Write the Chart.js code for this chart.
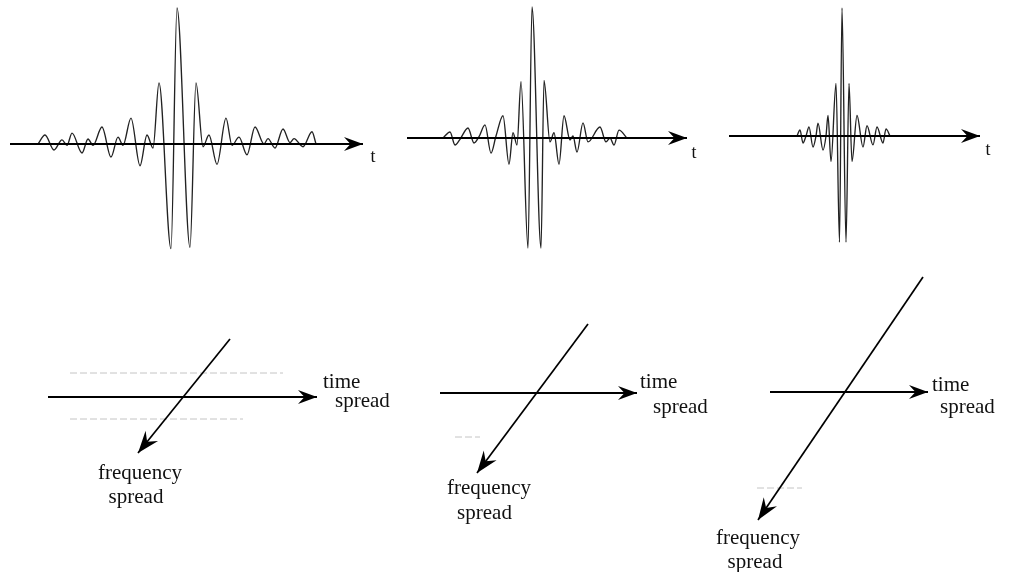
<!DOCTYPE html>
<html><head><meta charset="utf-8">
<script src="https://cdn.jsdelivr.net/npm/chart.js@4"></script>
<style>
html,body{margin:0;padding:0;background:#fff;}
#wrap{position:relative;width:1012px;height:572px;overflow:hidden;background:#fff;}
#wrap canvas{position:absolute;}
</style>
</head><body><div id="wrap"></div>
<script>
// ---------- data ----------
// Wavelet 1 (wide): time (arbitrary units) and amplitude (peak = 1)
const wave1T = [-13.9,-13.2,-12.3,-11.5,-11.0,-10.5,-9.5,-8.9,-8.4,-7.5,-6.6,-5.9,-5.4,-4.6,-3.7,-3.0,-2.4,-1.8,-0.6,0,1.3,1.9,2.6,3.2,4.0,4.9,5.5,6.2,7.0,7.8,8.7,9.1,9.8,10.6,11.3,11.7,12.6,13.5,13.9];
const wave1A = [0,0.066,-0.044,0.03,-0.01,0.08,-0.066,0.037,-0.01,0.125,-0.096,0.05,-0.01,0.19,-0.16,0.066,-0.03,0.45,-0.77,1.0,-0.76,0.45,-0.02,0.066,-0.15,0.19,-0.01,0.05,-0.08,0.125,0,0.04,-0.03,0.11,0.01,0.04,-0.02,0.09,0];
// Wavelet 2 (medium)
const wave2T = [-8.9,-8.2,-7.7,-7.2,-6.4,-5.8,-5.3,-4.7,-4.1,-3.6,-2.9,-2.3,-1.9,-1.5,-1.1,-0.4,0,0.9,1.2,1.8,2.2,2.7,3.2,3.8,4.1,4.5,5.1,5.6,6.8,7.4,7.8,8.2,8.7,9.5];
const wave2A = [0,0.046,-0.053,-0.01,0.076,-0.038,0.01,0.10,-0.115,0.015,0.17,-0.2,0.04,-0.053,0.43,-0.84,1.0,-0.84,0.44,-0.03,0.04,-0.2,0.17,-0.015,0.015,-0.107,0.115,-0.03,0.084,-0.03,0,-0.053,0.06,0];
// Wavelet 3 (narrow)
const wave3T = [-4.5,-4.2,-3.9,-3.6,-3.3,-2.9,-2.6,-2.4,-1.9,-1.6,-1.4,-1.1,-0.6,-0.25,0,0.4,0.7,1.0,1.5,2.1,2.5,3.1,3.5,4.1,4.4,4.8];
const wave3A = [0,0.047,-0.055,0,0.07,-0.086,0,0.10,-0.11,0,0.16,-0.2,0.41,-0.83,1.0,-0.83,0.41,-0.2,0.16,-0.086,0.08,-0.07,0.07,-0.055,0.055,0];
// time axes of the three wavelets (start, arrow tip)
const tAxis1 = [-16.7, 18.6];
const tAxis2 = [-12.5, 15.5];
const tAxis3 = [-11.3, 13.8];
const tLabel = 't';

// Time-frequency diagrams: time-spread axis (x) and frequency-spread axis (x,y pairs)
const timeSpread1 = [-13.4, 13.5];
const freqSpread1X = [4.8, -4.4], freqSpread1Y = [5.8, -5.6];
const timeSpread2 = [-9.7, 10.0];
const freqSpread2X = [5.1, -6.0], freqSpread2Y = [6.9, -8.0];
const timeSpread3 = [-7.3, 8.5];
const freqSpread3X = [8.0, -8.5], freqSpread3Y = [11.5, -12.8];
// faint guide lines (x start, x end, level)
const guide1Upper = [-11.2, 10.1, 2.4];
const guide1Lower = [-11.2, 6.1, -2.2];
const guide2Lower = [-8.2, -5.7, -4.4];
const guide3Lower = [-8.6, -4.1, -9.6];
const timeWords = ['time', 'spread'];
const freqWords = ['frequency', 'spread'];

// ---------- helpers ----------
const zip = (xs, ys) => xs.map((x, i) => ({x, y: ys[i]}));
const hLine = (xs, y) => xs.map(x => ({x, y}));
const guide = g => [{x: g[0], y: g[2]}, {x: g[1], y: g[2]}];

const arrowPlugin = {
  id: 'arrowHeads',
  afterDatasetsDraw(chart) {
    const ctx = chart.ctx;
    chart.data.datasets.forEach((ds, i) => {
      if (!ds.arrowHead) return;
      const pts = chart.getDatasetMeta(i).data;
      const a = pts[pts.length - 2], b = pts[pts.length - 1];
      const ang = Math.atan2(b.y - a.y, b.x - a.x);
      const L = ds.arrowHead.len, W = ds.arrowHead.half;
      ctx.save();
      ctx.translate(b.x, b.y);
      ctx.rotate(ang);
      ctx.beginPath();
      ctx.moveTo(0, 0);
      ctx.lineTo(-L, -W);
      ctx.lineTo(-L * 0.66, 0);
      ctx.lineTo(-L, W);
      ctx.closePath();
      ctx.fillStyle = ds.borderColor;
      ctx.fill();
      ctx.restore();
    });
  }
};
const textPlugin = {
  id: 'panelText',
  afterDraw(chart, args, opts) {
    const ctx = chart.ctx, xs = chart.scales.x, ys = chart.scales.y;
    ctx.save();
    (opts.items || []).forEach(it => {
      ctx.font = it.font;
      ctx.fillStyle = '#111';
      ctx.textAlign = it.align;
      ctx.textBaseline = 'middle';
      ctx.fillText(it.text, xs.getPixelForValue(it.x), ys.getPixelForValue(it.y));
    });
    ctx.restore();
  }
};

function makePanel(p) {
  const c = document.createElement('canvas');
  c.width = p.w; c.height = p.h;
  c.style.left = p.left + 'px'; c.style.top = p.top + 'px';
  c.style.width = p.w + 'px'; c.style.height = p.h + 'px';
  document.getElementById('wrap').appendChild(c);
  new Chart(c, {
    type: 'line',
    data: {datasets: p.datasets},
    options: {
      responsive: false, animation: false, events: [],
      layout: {padding: 0},
      scales: {
        x: {type: 'linear', display: false, min: p.x[0], max: p.x[1]},
        y: {type: 'linear', display: false, min: p.y[0], max: p.y[1]}
      },
      elements: {point: {radius: 0}},
      plugins: {legend: {display: false}, tooltip: {enabled: false}, panelText: {items: p.items}}
    },
    plugins: [arrowPlugin, textPlugin]
  });
}

const waveDs = (t, a) => ({data: zip(t, a), borderColor: '#222', borderWidth: 1.35,
  cubicInterpolationMode: 'monotone', pointRadius: 0, clip: false, order: 2});
const axisDs = (xs) => ({data: hLine(xs, 0), borderColor: '#000', borderWidth: 2,
  tension: 0, pointRadius: 0, clip: false, order: 0, arrowHead: {len: 19, half: 7}});
const diagDs = (xs, ys) => ({data: zip(xs, ys), borderColor: '#000', borderWidth: 1.7,
  tension: 0, pointRadius: 0, clip: false, order: 0, arrowHead: {len: 22, half: 8}});
const guideDs = (g) => ({data: guide(g), borderColor: '#c4c4c4', borderWidth: 1,
  borderDash: [7, 3], tension: 0, pointRadius: 0, clip: false, order: 3});

const tFont = "18px 'Liberation Serif', serif";
const wFont = "21px 'Liberation Serif', serif";

// ---------- top row: wavelets ----------
makePanel({left: 0, top: 0, w: 400, h: 265, x: [-17.7, 22.3], y: [-0.89, 1.059],
  datasets: [axisDs(tAxis1), waveDs(wave1T, wave1A)],
  items: [{text: tLabel, x: 19.6, y: -0.10, align: 'center', font: tFont}]});
makePanel({left: 400, top: 0, w: 310, h: 265, x: [-13.2, 17.8], y: [-0.969, 1.053],
  datasets: [axisDs(tAxis2), waveDs(wave2T, wave2A)],
  items: [{text: tLabel, x: 16.2, y: -0.115, align: 'center', font: tFont}]});
makePanel({left: 710, top: 0, w: 302, h: 265, x: [-13.2, 17.0], y: [-1.008, 1.0625],
  datasets: [axisDs(tAxis3), waveDs(wave3T, wave3A)],
  items: [{text: tLabel, x: 14.6, y: -0.11, align: 'center', font: tFont}]});

// ---------- bottom row: time / frequency spread ----------
makePanel({left: 0, top: 280, w: 420, h: 292, x: [-18.2, 23.8], y: [-17.5, 11.7],
  datasets: [axisDs(timeSpread1), diagDs(freqSpread1X, freqSpread1Y), guideDs(guide1Upper), guideDs(guide1Lower)],
  items: [
    {text: timeWords[0], x: 14.1, y: 1.5, align: 'left', font: wFont},
    {text: timeWords[1], x: 15.3, y: -0.4, align: 'left', font: wFont},
    {text: freqWords[0], x: -4.2, y: -7.6, align: 'center', font: wFont},
    {text: freqWords[1], x: -4.6, y: -10.0, align: 'center', font: wFont}]});
makePanel({left: 400, top: 280, w: 340, h: 292, x: [-13.7, 20.3], y: [-17.9, 11.3],
  datasets: [axisDs(timeSpread2), diagDs(freqSpread2X, freqSpread2Y), guideDs(guide2Lower)],
  items: [
    {text: timeWords[0], x: 10.3, y: 1.1, align: 'left', font: wFont},
    {text: timeWords[1], x: 11.6, y: -1.4, align: 'left', font: wFont},
    {text: freqWords[0], x: -4.8, y: -9.5, align: 'center', font: wFont},
    {text: freqWords[1], x: -5.25, y: -12.0, align: 'center', font: wFont}]});
makePanel({left: 700, top: 260, w: 312, h: 312, x: [-14.3, 16.9], y: [-18.0, 13.2],
  datasets: [axisDs(timeSpread3), diagDs(freqSpread3X, freqSpread3Y), guideDs(guide3Lower)],
  items: [
    {text: timeWords[0], x: 8.9, y: 0.7, align: 'left', font: wFont},
    {text: timeWords[1], x: 9.7, y: -1.5, align: 'left', font: wFont},
    {text: freqWords[0], x: -8.5, y: -14.6, align: 'center', font: wFont},
    {text: freqWords[1], x: -8.8, y: -17.0, align: 'center', font: wFont}]});
</script>
</body></html>
